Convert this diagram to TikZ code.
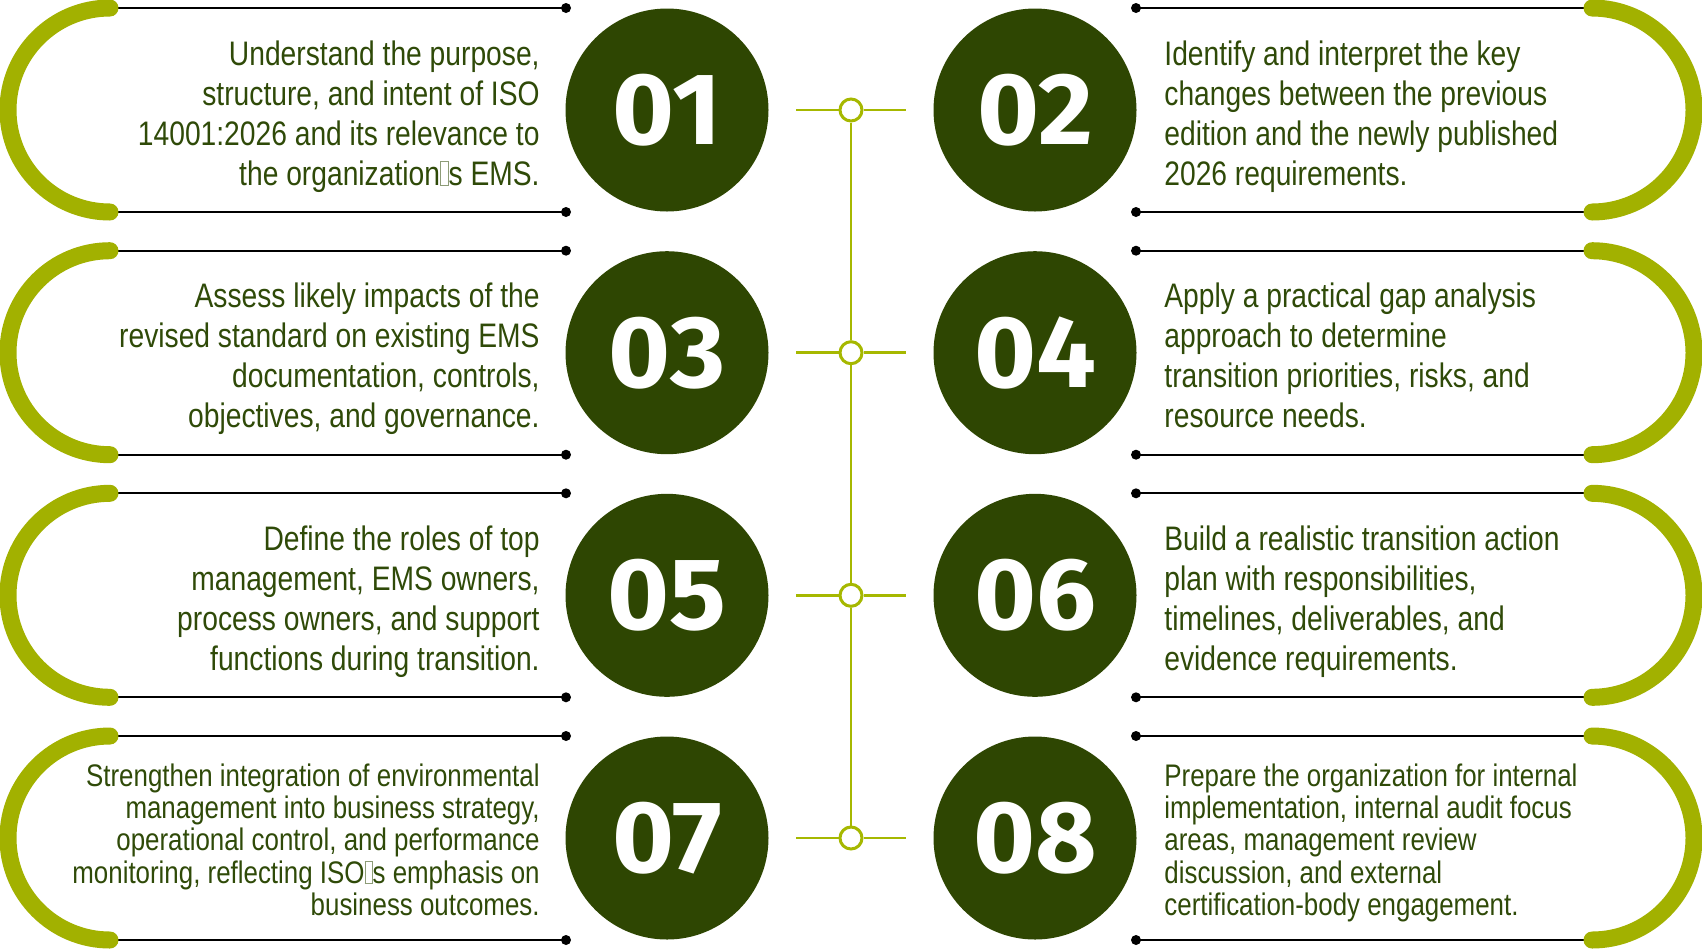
\documentclass[tikz,border=0pt]{standalone}
\usepackage{fontspec}
\setmainfont{Liberation Sans}[FakeStretch=0.83]
\newfontfamily\numfont{Fira Sans}[FakeStretch=1.04]
\usepackage{tikz}
\usetikzlibrary{calc,positioning}

\definecolor{discgreen}{RGB}{46,70,2}
\definecolor{bowgreen}{RGB}{162,177,0}
\definecolor{hubgreen}{RGB}{166,184,0}
\definecolor{textgreen}{RGB}{47,74,8}

\newcommand{\glyphbox}{{\color{textgreen!55}\setlength{\fboxsep}{0pt}\setlength{\fboxrule}{0.45pt}\fbox{\rule{0pt}{0.68em}\hspace{0.2em}}}}

\tikzset{
	rule/.style={line width=1pt, black},
	bow/.style={line width=8.5pt, bowgreen, line cap=round},
	hubline/.style={line width=1.4pt, hubgreen},
	hub/.style={circle, draw=hubgreen, line width=1.5pt, fill=white, minimum size=11pt, inner sep=0pt},
	disc/.style={circle, fill=discgreen, minimum size=101.5pt, inner sep=0pt, text=white, font=\numfont\bfseries\fontsize{51pt}{51pt}\selectfont},
	leftnote/.style={anchor=north east, align=right, inner sep=0pt, text=textgreen, font=\fontsize{17pt}{20pt}\selectfont},
	rightnote/.style={anchor=north west, align=left, inner sep=0pt, text=textgreen, font=\fontsize{17pt}{20pt}\selectfont},
	small/.style={font=\fontsize{15.6pt}{16.1pt}\selectfont}
}

\begin{document}
\begin{tikzpicture}[x=0.5pt,y=0.5pt]
					\useasboundingbox (0,0) rectangle (1702,-949);

					\coordinate (l1a) at (110,-8);     \coordinate (l1b) at (566,-8);
					\coordinate (l1c) at (110,-212);   \coordinate (l1d) at (566,-212);
					\coordinate (r1a) at (1592,-8);    \coordinate (r1b) at (1136,-8);
					\coordinate (r1c) at (1592,-212);  \coordinate (r1d) at (1136,-212);
					\coordinate (l2a) at (110,-250.7); \coordinate (l2b) at (566,-250.7);
					\coordinate (l2c) at (110,-454.7); \coordinate (l2d) at (566,-454.7);
					\coordinate (r2a) at (1592,-250.7);\coordinate (r2b) at (1136,-250.7);
					\coordinate (r2c) at (1592,-454.7);\coordinate (r2d) at (1136,-454.7);
					\coordinate (l3a) at (110,-493.3); \coordinate (l3b) at (566,-493.3);
					\coordinate (l3c) at (110,-697.3); \coordinate (l3d) at (566,-697.3);
					\coordinate (r3a) at (1592,-493.3);\coordinate (r3b) at (1136,-493.3);
					\coordinate (r3c) at (1592,-697.3);\coordinate (r3d) at (1136,-697.3);
					\coordinate (l4a) at (110,-736);   \coordinate (l4b) at (566,-736);
					\coordinate (l4c) at (110,-940);   \coordinate (l4d) at (566,-940);
					\coordinate (r4a) at (1592,-736);  \coordinate (r4b) at (1136,-736);
					\coordinate (r4c) at (1592,-940);  \coordinate (r4d) at (1136,-940);

					\draw[rule] (l1a) -- (l1b) (l1c) -- (l1d) (r1a) -- (r1b) (r1c) -- (r1d);
					\draw[rule] (l2a) -- (l2b) (l2c) -- (l2d) (r2a) -- (r2b) (r2c) -- (r2d);
					\draw[rule] (l3a) -- (l3b) (l3c) -- (l3d) (r3a) -- (r3b) (r3c) -- (r3d);
					\draw[rule] (l4a) -- (l4b) (l4c) -- (l4d) (r4a) -- (r4b) (r4c) -- (r4d);
					\fill (l1b) circle (5) (l1d) circle (5) (r1b) circle (5) (r1d) circle (5);
					\fill (l2b) circle (5) (l2d) circle (5) (r2b) circle (5) (r2d) circle (5);
					\fill (l3b) circle (5) (l3d) circle (5) (r3b) circle (5) (r3d) circle (5);
					\fill (l4b) circle (5) (l4d) circle (5) (r4b) circle (5) (r4d) circle (5);

					\draw[bow] (l1a) arc[start angle=90, end angle=270, radius=102];
					\draw[bow] (r1a) arc[start angle=90, end angle=-90, radius=102];
					\draw[bow] (l2a) arc[start angle=90, end angle=270, radius=102];
					\draw[bow] (r2a) arc[start angle=90, end angle=-90, radius=102];
					\draw[bow] (l3a) arc[start angle=90, end angle=270, radius=102];
					\draw[bow] (r3a) arc[start angle=90, end angle=-90, radius=102];
					\draw[bow] (l4a) arc[start angle=90, end angle=270, radius=102];
					\draw[bow] (r4a) arc[start angle=90, end angle=-90, radius=102];

					\node[disc] (n01) at (667,-110) {01};
					\node[disc] (n02) at (1035,-110) {02};
					\node[disc] (n03) at (667,-352.7) {03};
					\node[disc] (n04) at (1035,-352.7) {04};
					\node[disc] (n05) at (667,-595.3) {05};
					\node[disc] (n06) at (1035,-595.3) {06};
					\node[disc] (n07) at (667,-838) {07};
					\node[disc] (n08) at (1035,-838) {08};

					\node[hub] (h1) at (851,-110) {};
					\node[hub] (h2) at (851,-352.7) {};
					\node[hub] (h3) at (851,-595.3) {};
					\node[hub] (h4) at (851,-838) {};
					\coordinate (k1l) at (796,-110);   \coordinate (k1r) at (906,-110);
					\coordinate (k2l) at (796,-352.7); \coordinate (k2r) at (906,-352.7);
					\coordinate (k3l) at (796,-595.3); \coordinate (k3r) at (906,-595.3);
					\coordinate (k4l) at (796,-838);   \coordinate (k4r) at (906,-838);
					\draw[hubline] (h1) -- (h2) -- (h3) -- (h4);
					\draw[hubline] (k1l) -- (h1) -- (k1r);
					\draw[hubline] (k2l) -- (h2) -- (k2r);
					\draw[hubline] (k3l) -- (h3) -- (k3r);
					\draw[hubline] (k4l) -- (h4) -- (k4r);

					\node[leftnote] (t01) at (540,-40) {Understand the purpose,\\structure, and intent of ISO\\14001:2026 and its relevance to\\the organization\glyphbox s EMS.};
					\node[rightnote] (t02) at (1164,-40) {Identify and interpret the key\\changes between the previous\\edition and the newly published\\2026 requirements.};
					\node[leftnote] (t03) at (540,-282.7) {Assess likely impacts of the\\revised standard on existing EMS\\documentation, controls,\\objectives, and governance.};
					\node[rightnote] (t04) at (1164,-282.7) {Apply a practical gap analysis\\approach to determine\\transition priorities, risks, and\\resource needs.};
					\node[leftnote] (t05) at (540,-525.3) {Define the roles of top\\management, EMS owners,\\process owners, and support\\functions during transition.};
					\node[rightnote] (t06) at (1164,-525.3) {Build a realistic transition action\\plan with responsibilities,\\timelines, deliverables, and\\evidence requirements.};
					\node[leftnote, small] (t07) at (540,-763.5) {Strengthen integration of environmental\\management into business strategy,\\operational control, and performance\\monitoring, reflecting ISO\glyphbox s emphasis on\\business outcomes.};
					\node[rightnote, small] (t08) at (1164,-763.5) {Prepare the organization for internal\\implementation, internal audit focus\\areas, management review\\discussion, and external\\certification-body engagement.};
				\end{tikzpicture}
\end{document}
